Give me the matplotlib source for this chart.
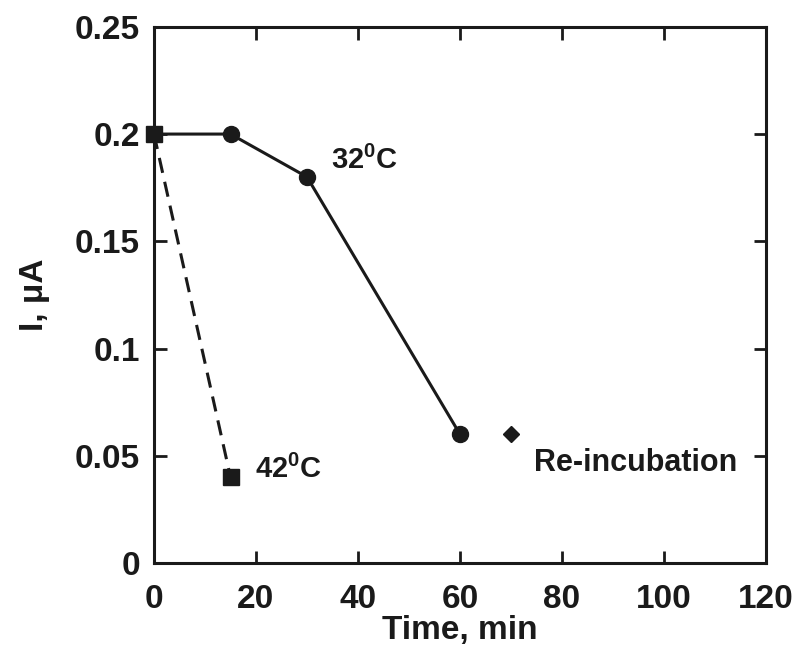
import matplotlib
matplotlib.use("Agg")
import matplotlib.pyplot as plt

plt.rcParams['font.family'] = ['Liberation Sans', 'DejaVu Sans']
plt.rcParams['font.weight'] = 'bold'
plt.rcParams['mathtext.fontset'] = 'custom'
plt.rcParams['mathtext.rm'] = 'Liberation Sans:bold'
plt.rcParams['mathtext.bf'] = 'Liberation Sans:bold'
plt.rcParams['mathtext.it'] = 'Liberation Sans:bold'

t32 = [0, 15, 30, 60]
i32 = [0.2, 0.2, 0.18, 0.06]
t42 = [0, 15]
i42 = [0.2, 0.04]
t_re = [70]
i_re = [0.06]

xticks = [0, 20, 40, 60, 80, 100, 120]
yticks = [0, 0.05, 0.1, 0.15, 0.2, 0.25]
ytick_labels = ['0', '0.05', '0.1', '0.15', '0.2', '0.25']

fig = plt.figure(figsize=(8, 6.66), dpi=100)
ax = fig.add_axes([0.1925, 0.1547, 0.765, 0.805])

c = '#1a1a1a'
ax.plot(t32, i32, '-', color=c, lw=2.2, zorder=3)
ax.plot(t32[1:], i32[1:], 'o', color=c, ms=11.5, zorder=4)
ax.plot(t42, i42, '--', color=c, lw=2.2, dashes=(5, 3), zorder=3)
ax.plot(t42, i42, 's', color=c, ms=11, zorder=5, clip_on=False)
ax.plot(t_re, i_re, 'D', color=c, ms=8, zorder=4)

ax.text(34.8, 0.1838, '32$^{\\mathrm{0}}$C', fontsize=21, color=c, va='baseline')
ax.text(19.8, 0.0396, '42$^{\\mathrm{0}}$C', fontsize=21, color=c, va='baseline')
ax.text(74.6, 0.0429, 'Re-incubation', fontsize=22, color=c, va='baseline')

ax.set_xlim(0, 120)
ax.set_ylim(0, 0.25)
ax.set_xticks(xticks)
ax.set_xticklabels([str(x) for x in xticks])
ax.set_yticks(yticks)
ax.set_yticklabels(ytick_labels)
ax.tick_params(direction='in', length=9, width=2, top=True, right=True,
               labelsize=24, colors=c)
ax.tick_params(axis='x', pad=15)
ax.tick_params(axis='y', pad=10)
for lab in ax.get_xticklabels() + ax.get_yticklabels():
    lab.set_fontweight('bold')
for s in ax.spines.values():
    s.set_linewidth(2.2)
    s.set_color(c)

ax.set_xlabel('Time, min', fontsize=24, fontweight='bold', color=c, labelpad=0)
ax.set_ylabel('I, μA', fontsize=24, fontweight='bold', color=c, labelpad=18)

fig.savefig('out.png', dpi=100)
